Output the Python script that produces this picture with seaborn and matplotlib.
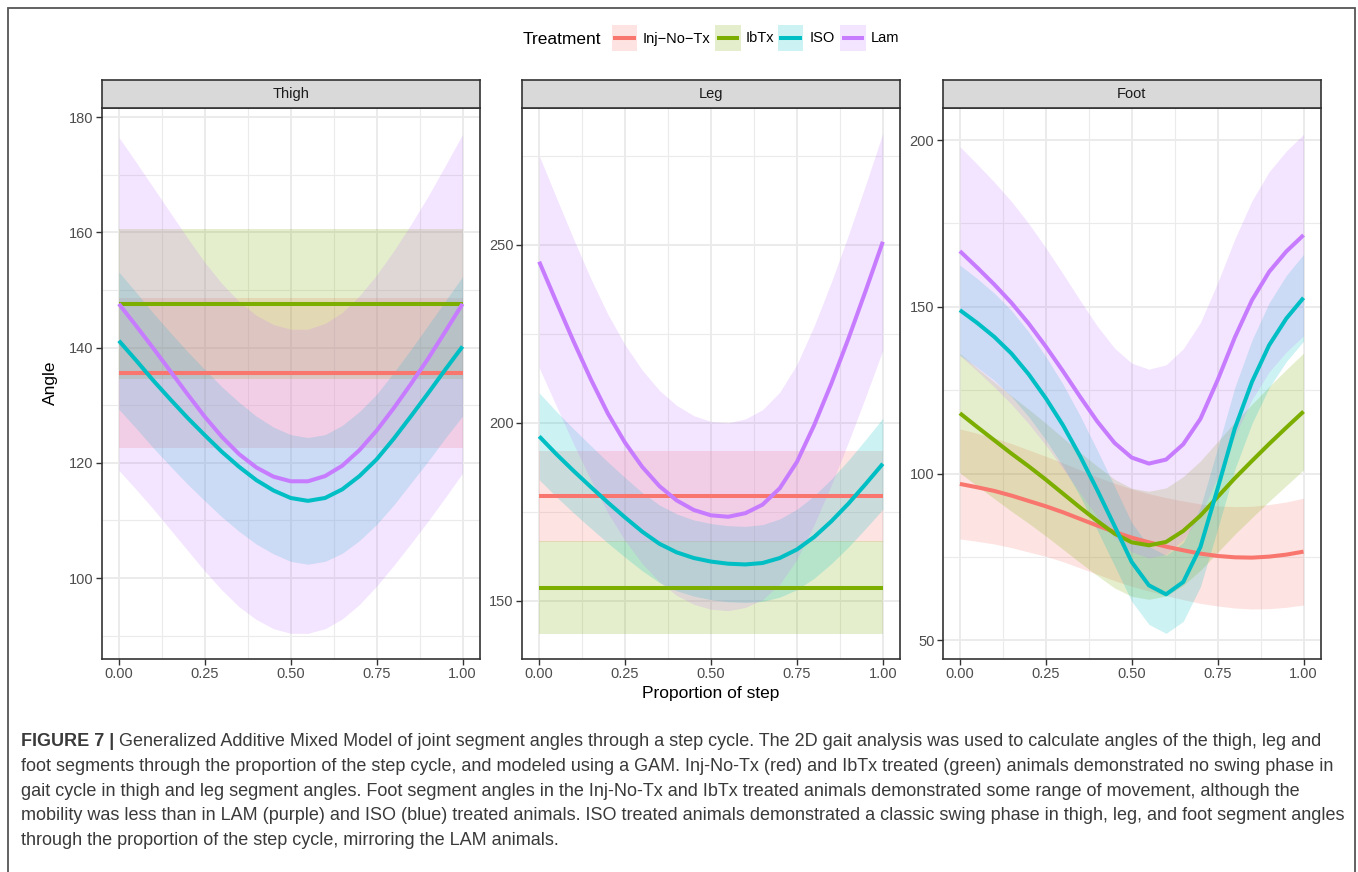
import matplotlib
matplotlib.use("Agg")
import matplotlib.pyplot as plt
import seaborn as sns
import pandas as pd
from matplotlib.patches import Rectangle
from matplotlib.lines import Line2D

# ---------------------------------------------------------------------
# data: GAM fit and half width of the band
# ---------------------------------------------------------------------
x_prop = [0.00, 0.05, 0.10, 0.15, 0.20, 0.25, 0.30, 0.35, 0.40, 0.45, 0.50,
          0.55, 0.60, 0.65, 0.70, 0.75, 0.80, 0.85, 0.90, 0.95, 1.00]

treatments = ["Inj\u2212No\u2212Tx", "IbTx", "ISO", "Lam"]
colores = ["#F8766D", "#7CAE00", "#00BFC4", "#C77CFF"]
segmentos = ["Thigh", "Leg", "Foot"]

# Thigh
thigh_inj_fit = [135.6] * 21
thigh_inj_se = [13.0] * 21
thigh_ibtx_fit = [147.6] * 21
thigh_ibtx_se = [13.0] * 21
thigh_iso_fit = [141.2, 137.8, 134.3, 131.0, 127.8, 124.8, 121.9, 119.3, 117.0, 115.2, 113.9,
                 113.4, 113.9, 115.4, 117.7, 120.6, 124.2, 128.1, 132.1, 136.2, 140.2]
thigh_iso_se = [11.9, 11.8, 11.7, 11.6, 11.5, 11.4, 11.3, 11.2, 11.1, 11.0, 11.0,
                11.0, 11.0, 11.1, 11.2, 11.3, 11.5, 11.6, 11.8, 11.9, 12.1]
thigh_lam_fit = [147.6, 143.8, 139.9, 135.9, 131.9, 128.0, 124.5, 121.5, 119.2, 117.6, 116.8,
                 116.8, 117.7, 119.5, 122.2, 125.6, 129.5, 133.7, 138.1, 142.8, 147.6]
thigh_lam_se = [28.9, 28.4, 27.9, 27.5, 27.1, 26.8, 26.6, 26.5, 26.4, 26.4, 26.4,
                26.4, 26.5, 26.6, 26.8, 27.0, 27.3, 27.7, 28.2, 28.8, 29.4]

# Leg
leg_inj_fit = [179.3] * 21
leg_inj_se = [12.8] * 21
leg_ibtx_fit = [153.7] * 21
leg_ibtx_se = [13.1] * 21
leg_iso_fit = [196.2, 191.2, 186.5, 182.0, 177.6, 173.4, 169.4, 166.0, 163.6, 162.0, 161.0,
               160.4, 160.2, 160.6, 162.0, 164.4, 167.9, 172.3, 177.3, 182.8, 188.5]
leg_iso_se = [12.2, 12.0, 11.8, 11.6, 11.4, 11.2, 11.0, 10.9, 10.8, 10.7, 10.7,
              10.7, 10.7, 10.8, 11.0, 11.3, 11.6, 11.9, 12.2, 12.5, 12.8]
leg_lam_fit = [245.3, 234.0, 222.9, 212.3, 202.6, 194.4, 187.6, 182.2, 178.2, 175.5, 174.0,
               173.6, 174.6, 177.0, 181.6, 189.0, 199.3, 211.0, 223.7, 237.1, 250.9]
leg_lam_se = [29.8, 29.3, 28.8, 28.3, 27.9, 27.5, 27.2, 26.9, 26.7, 26.5, 26.4,
              26.4, 26.5, 26.7, 27.0, 27.4, 27.9, 28.5, 29.1, 29.8, 30.5]

# Foot
foot_inj_fit = [96.9, 95.9, 94.8, 93.4, 91.8, 90.2, 88.4, 86.4, 84.4, 82.5, 80.8,
                79.4, 78.1, 77.0, 76.0, 75.3, 74.9, 74.8, 75.1, 75.7, 76.6]
foot_inj_se = [16.5, 16.2, 15.9, 15.6, 15.3, 15.0, 14.8, 14.7, 14.6, 14.6, 14.6,
               14.6, 14.7, 14.8, 14.9, 15.0, 15.2, 15.4, 15.6, 15.8, 16.0]
foot_ibtx_fit = [118.1, 114.0, 110.0, 106.0, 102.2, 98.2, 94.0, 89.8, 85.8, 82.0, 79.4,
                 78.5, 79.5, 82.8, 87.4, 93.0, 98.6, 103.8, 108.9, 113.8, 118.6]
foot_ibtx_se = [17.9, 17.7, 17.5, 17.3, 17.1, 16.9, 16.7, 16.5, 16.4, 16.3, 16.2,
                16.2, 16.2, 16.3, 16.4, 16.6, 16.8, 17.0, 17.2, 17.4, 17.5]
foot_iso_fit = [149.0, 145.2, 141.0, 136.0, 129.8, 122.6, 114.5, 105.2, 95.0, 84.3, 73.5,
                66.5, 63.8, 67.5, 78.0, 95.5, 113.5, 127.5, 138.5, 146.5, 152.7]
foot_iso_se = [13.5, 13.3, 13.1, 12.9, 12.7, 12.5, 12.3, 12.1, 12.0, 11.9, 11.8,
               11.7, 11.7, 11.8, 11.9, 12.1, 12.3, 12.5, 12.7, 12.9, 13.0]
foot_lam_fit = [166.7, 161.8, 156.7, 151.2, 145.0, 138.1, 130.7, 123.0, 115.6, 109.2, 104.8,
                103.0, 104.2, 108.8, 116.4, 128.0, 140.8, 152.0, 160.5, 166.6, 171.5]
foot_lam_se = [31.3, 31.0, 30.7, 30.4, 30.0, 29.6, 29.2, 28.9, 28.6, 28.4, 28.3,
               28.3, 28.4, 28.6, 28.9, 29.2, 29.5, 29.8, 30.0, 30.1, 30.2]

y_ticks = {"Thigh": [100, 120, 140, 160, 180], "Leg": [150, 200, 250], "Foot": [50, 100, 150, 200]}
y_minor = {"Thigh": [90, 110, 130, 150, 170], "Leg": [175, 225, 275], "Foot": [75, 125, 175]}
y_lims = {"Thigh": (86.0, 181.6), "Leg": (133.7, 288.5), "Foot": (44.5, 209.6)}

series = {
    "Thigh": [(thigh_inj_fit, thigh_inj_se), (thigh_ibtx_fit, thigh_ibtx_se),
              (thigh_iso_fit, thigh_iso_se), (thigh_lam_fit, thigh_lam_se)],
    "Leg": [(leg_inj_fit, leg_inj_se), (leg_ibtx_fit, leg_ibtx_se),
            (leg_iso_fit, leg_iso_se), (leg_lam_fit, leg_lam_se)],
    "Foot": [(foot_inj_fit, foot_inj_se), (foot_ibtx_fit, foot_ibtx_se),
             (foot_iso_fit, foot_iso_se), (foot_lam_fit, foot_lam_se)],
}

filas = []
for seg in segmentos:
    for trat, (fit, se) in zip(treatments, series[seg]):
        for xv, f, s in zip(x_prop, fit, se):
            filas.append({"segment": seg, "Treatment": trat, "x": xv, "fit": f, "se": s})
df = pd.DataFrame(filas)
df["lower"] = df["fit"] - df["se"]
df["upper"] = df["fit"] + df["se"]

# ---------------------------------------------------------------------
# figure
# ---------------------------------------------------------------------
sns.set_theme(style="white")
plt.rcParams["font.family"] = ["Liberation Sans", "DejaVu Sans"]

W, H = 1358, 872
fig = plt.figure(figsize=(W / 100, H / 100), dpi=100)


def fx(px):
    return px / W


def fy(py):
    return 1 - py / H


panel_left = [101.7, 522.0, 942.7]
panel_w = 378.0
p_top, p_bot = 108.0, 658.7
strip_h = 28.0
borde = "#333333"

for seg, left in zip(segmentos, panel_left):
    ax = fig.add_axes([fx(left), fy(p_bot), panel_w / W, (p_bot - p_top) / H])
    sub = df[df["segment"] == seg]

    for trat, col in zip(treatments, colores):
        d = sub[sub["Treatment"] == trat]
        ax.fill_between(d["x"], d["lower"], d["upper"], color=col, alpha=0.2, lw=0, zorder=2)

    sns.lineplot(data=sub, x="x", y="fit", hue="Treatment", hue_order=treatments,
                 palette=colores, linewidth=2.9, legend=False, ax=ax,
                 estimator=None, sort=True, zorder=3)
    for ln in ax.get_lines():
        ln.set_solid_joinstyle("round")
        ln.set_solid_capstyle("butt")

    ax.set_xlim(-0.05, 1.05)
    ax.set_ylim(*y_lims[seg])
    ax.set_xticks([0, 0.25, 0.5, 0.75, 1.0])
    ax.set_xticklabels(["0.00", "0.25", "0.50", "0.75", "1.00"])
    ax.set_xticks([0.125, 0.375, 0.625, 0.875], minor=True)
    ax.set_yticks(y_ticks[seg])
    ax.set_yticks(y_minor[seg], minor=True)
    ax.grid(which="major", color="#EBEBEB", lw=1.4, zorder=0)
    ax.grid(which="minor", color="#EBEBEB", lw=0.8, zorder=0)
    ax.set_axisbelow(True)
    ax.set_xlabel("")
    ax.set_ylabel("")
    ax.tick_params(which="major", direction="out", length=4, width=1.0, color=borde,
                   labelsize=10.5, labelcolor="#4D4D4D", pad=2, left=True, bottom=True)
    ax.tick_params(which="minor", length=0)
    for sp in ax.spines.values():
        sp.set_color(borde)
        sp.set_linewidth(1.2)
        sp.set_visible(True)

    # strip
    st = fig.add_axes([fx(left), fy(p_top), panel_w / W, strip_h / H])
    st.set_facecolor("#D9D9D9")
    st.set_xticks([])
    st.set_yticks([])
    for sp in st.spines.values():
        sp.set_color(borde)
        sp.set_linewidth(1.2)
        sp.set_visible(True)
    st.text(0.5, 0.5, seg, ha="center", va="center", fontsize=10.5, color="#1A1A1A",
            transform=st.transAxes)

# axis titles
fig.text(fx(711), fy(693), "Proportion of step", ha="center", va="center", fontsize=12.5, color="black")
fig.text(fx(50), fy(383), "Angle", ha="center", va="center", rotation=90, fontsize=12.5, color="black")

# legend (drawn by hand so keys look like ggplot keys)
fig.text(fx(523), fy(39), "Treatment", ha="left", va="center", fontsize=12.5, color="black")
key_x = [611.7, 715.0, 777.7, 840.0]
label_x = [642.5, 746.0, 809.5, 871.0]
for trat, col, kx, lx in zip(treatments, colores, key_x, label_x):
    fig.add_artist(Rectangle((fx(kx), fy(51)), 25.6 / W, 26.0 / H, transform=fig.transFigure,
                             facecolor=col, alpha=0.2, lw=0))
    fig.add_artist(Line2D([fx(kx + 1.5), fx(kx + 24.1)], [fy(38), fy(38)], transform=fig.transFigure,
                          color=col, lw=2.9, solid_capstyle="butt"))
    fig.text(fx(lx), fy(38.5), trat, ha="left", va="center", fontsize=10.5, color="black")

# outer frame
fig.add_artist(Rectangle((fx(8), fy(900)), fx(1355) - fx(8), fy(8) - fy(900),
                         transform=fig.transFigure, fill=False, ec="#555555", lw=1.3))

# caption
cap_color = "#3A3A3A"
cap_size = 13.0
lineas = [
    "Generalized Additive Mixed Model of joint segment angles through a step cycle. The 2D gait analysis was used to calculate angles of the thigh, leg and",
    "foot segments through the proportion of the step cycle, and modeled using a GAM. Inj-No-Tx (red) and IbTx treated (green) animals demonstrated no swing phase in",
    "gait cycle in thigh and leg segment angles. Foot segment angles in the Inj-No-Tx and IbTx treated animals demonstrated some range of movement, although the",
    "mobility was less than in LAM (purple) and ISO (blue) treated animals. ISO treated animals demonstrated a classic swing phase in thigh, leg, and foot segment angles",
    "through the proportion of the step cycle, mirroring the LAM animals.",
]
lineas_y = [741, 766, 791, 815, 840]

negrita = fig.text(fx(21), fy(lineas_y[0]), "FIGURE 7 | ", ha="left", va="center",
                   fontsize=cap_size, fontweight="bold", color=cap_color)
fig.canvas.draw()
bb = negrita.get_window_extent()
fig.text(bb.x1 / W, fy(lineas_y[0]), lineas[0], ha="left", va="center",
         fontsize=cap_size, color=cap_color)
for texto, yy in zip(lineas[1:], lineas_y[1:]):
    fig.text(fx(21), fy(yy), texto, ha="left", va="center", fontsize=cap_size, color=cap_color)

fig.savefig("out.png", dpi=100)
